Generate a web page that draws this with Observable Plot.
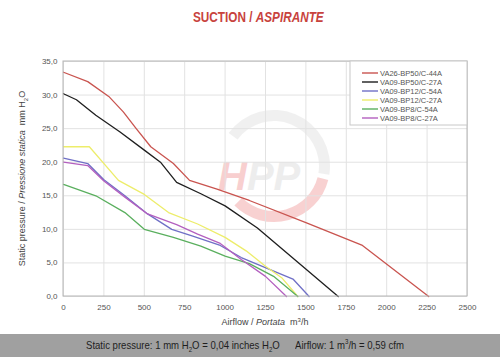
<!DOCTYPE html>
<html><head><meta charset="utf-8">
<script src="https://cdn.jsdelivr.net/npm/d3@7"></script>
<script src="https://cdn.jsdelivr.net/npm/@observablehq/plot@0.6"></script>
<style>
body{margin:0;background:#fff;}
#wrap{position:relative;width:500px;height:357px;overflow:hidden;font-family:"Liberation Sans",Arial,sans-serif;background:#fff;}
#title{position:absolute;top:9px;left:193px;white-space:nowrap;font-family:"Liberation Sans",Arial,sans-serif;font-weight:bold;font-size:14px;color:#c8433d;transform:scaleX(0.84);transform-origin:left top;}
#chart{position:absolute;top:40px;left:0;}
#foot{position:absolute;top:334px;left:0;width:500px;height:23px;background:#a0a0a0;color:#1e1e1e;font-family:"Liberation Sans",Arial,sans-serif;font-size:11px;line-height:23px;}
#foot span{position:absolute;top:0;white-space:nowrap;transform:scaleX(0.87);transform-origin:left center;}
sub,sup{font-size:7px;line-height:0;}
</style>
</head><body>
<div id="wrap">
  <div id="title">SUCTION / <i>ASPIRANTE</i></div>
  <div id="chart"></div>
  <div id="foot"><span style="left:86px">Static pressure: 1 mm H<sub>2</sub>O = 0,04 inches H<sub>2</sub>O</span><span style="left:295px">Airflow: 1 m<sup>3</sup>/h = 0,59 cfm</span></div>
</div>
<script>
const seriesNames = ["VA26-BP50/C-44A","VA09-BP50/C-27A","VA09-BP12/C-54A","VA09-BP12/C-27A","VA09-BP8/C-54A","VA09-BP8/C-27A"];
const seriesColors = ["#c9544f","#1e1e1e","#6f6fc6","#eded6a","#5aaf5e","#b35fbf"];

const flowVA26_BP50_44 = [0,150,280,370,450,540,680,780,950,1150,1500,1850,2260];
const presVA26_BP50_44 = [33.4,32.0,29.8,27.5,25.0,22.3,19.8,17.3,16.0,14.3,11.0,7.6,0];

const flowVA09_BP50_27 = [0,80,200,350,500,600,700,850,1000,1200,1700];
const presVA09_BP50_27 = [30.2,29.3,27.0,24.5,21.8,20.0,17.0,15.3,13.5,10.2,0];

const flowVA09_BP12_54 = [0,150,250,380,520,670,800,970,1100,1420,1520];
const presVA09_BP12_54 = [20.6,19.8,17.4,15.0,12.3,10.0,9.0,7.6,5.8,2.6,0];

const flowVA09_BP12_27 = [0,160,340,500,650,830,1000,1130,1250,1350,1450];
const presVA09_BP12_27 = [22.3,22.3,17.3,15.2,12.5,10.8,8.8,6.8,4.5,2.8,0];

const flowVA09_BP8_54 = [0,200,380,500,680,850,1000,1150,1300,1450];
const presVA09_BP8_54 = [16.7,15.0,12.5,10.0,8.8,7.5,6.0,4.9,3.0,0];

const flowVA09_BP8_27 = [0,150,250,380,520,700,830,970,1100,1250,1380];
const presVA09_BP8_27 = [20.0,19.5,17.2,14.8,12.3,10.7,9.3,7.9,5.5,3.0,0];

const xTicks = [0,250,500,750,1000,1250,1500,1750,2000,2250,2500];
const yTicks = [0,5,10,15,20,25,30,35];

const flows = [flowVA26_BP50_44,flowVA09_BP50_27,flowVA09_BP12_54,flowVA09_BP12_27,flowVA09_BP8_54,flowVA09_BP8_27];
const pres  = [presVA26_BP50_44,presVA09_BP50_27,presVA09_BP12_54,presVA09_BP12_27,presVA09_BP8_54,presVA09_BP8_27];
const data = [];
seriesNames.forEach((s,i)=>flows[i].forEach((f,j)=>data.push({series:s, flow:f, p:pres[i][j]})));

const W=500,H=294,mt=21,mb=38,ml=63,mr=33;
const plot = Plot.plot({
  width:W, height:H, marginTop:mt, marginBottom:mb, marginLeft:ml, marginRight:mr,
  style:{fontFamily:"Liberation Sans, Arial, sans-serif", fontSize:"8px", color:"#555", background:"transparent"},
  x:{domain:[0,2500], label:null},
  y:{domain:[0,35], label:null},
  color:{domain:seriesNames, range:seriesColors},
  marks:[
    Plot.gridX(xTicks,{stroke:"#e2e2e2", strokeOpacity:1}),
    Plot.gridY(yTicks,{stroke:"#e2e2e2", strokeOpacity:1}),
    Plot.axisX(xTicks,{tickSize:0, tickPadding:8, tickFormat:d=>String(d), fill:"#555"}),
    Plot.axisY(yTicks,{tickSize:0, tickPadding:6, tickFormat:d=>d.toFixed(1).replace(".",","), fill:"#555"}),
    Plot.line(data,{x:"flow", y:"p", z:"series", stroke:"series", strokeWidth:1.3})
  ]
});
document.getElementById("chart").appendChild(plot);

const svg = d3.select(plot);
const innerR = W-mr, innerB = H-mb;
// watermark
const wm = svg.insert("g", ":first-child").attr("opacity",0.5);
const cx=274, cy=126;
wm.append("path").attr("transform",`translate(${cx},${cy})`)
  .attr("d", d3.arc()({innerRadius:45,outerRadius:56,startAngle:-0.3*Math.PI,endAngle:0.55*Math.PI}))
  .attr("fill","#e3e3e3");
wm.append("path").attr("transform",`translate(${cx},${cy})`)
  .attr("d", d3.arc()({innerRadius:45,outerRadius:56,startAngle:0.58*Math.PI,endAngle:1.25*Math.PI}))
  .attr("fill","#f3a4a4");
const wt = wm.append("text").attr("x",218).attr("y",150).attr("text-anchor","start").attr("font-size",40).attr("font-weight","bold").attr("font-style","italic").attr("font-family","Liberation Sans, Arial, sans-serif");
wt.append("tspan").attr("fill","#f2a0a0").text("H");
wt.append("tspan").attr("fill","#dcdcdc").text("PP");
// frame
svg.append("rect").attr("x",ml).attr("y",mt).attr("width",innerR-ml).attr("height",innerB-mt).attr("fill","none").attr("stroke","#b5b5b5");
// legend box
const lg = svg.append("g").attr("text-anchor","start");
lg.append("rect").attr("x",350).attr("y",mt).attr("width",innerR-350).attr("height",64).attr("fill","#fff").attr("stroke","#c8c8c8");
seriesNames.forEach((s,i)=>{
  const yy = mt+12+i*9;
  lg.append("line").attr("x1",362).attr("x2",378).attr("y1",yy).attr("y2",yy).attr("stroke",seriesColors[i]).attr("stroke-width",1.4);
  lg.append("text").attr("x",380).attr("y",yy+2.7).attr("text-anchor","start").attr("font-size",7.5).attr("fill","#555").attr("font-family","Liberation Sans, Arial, sans-serif").text(s);
});
// axis titles
const xt = svg.append("text").attr("x",265).attr("y",H-9).attr("text-anchor","middle").attr("font-size",9).attr("fill","#444").attr("font-family","Liberation Sans, Arial, sans-serif");
xt.append("tspan").text("Airflow / ");
xt.append("tspan").attr("font-style","italic").text("Portata");
xt.append("tspan").text("  m");
xt.append("tspan").attr("font-size",6).attr("dy",-3).text("3");
xt.append("tspan").attr("dy",3).text("/h");
const yt = svg.append("text").attr("transform",`translate(25,${(mt+innerB)/2}) rotate(-90)`).attr("text-anchor","middle").attr("font-size",9).attr("fill","#444").attr("font-family","Liberation Sans, Arial, sans-serif");
yt.append("tspan").text("Static pressure / ");
yt.append("tspan").attr("font-style","italic").text("Pressione statica");
yt.append("tspan").text("  mm H");
yt.append("tspan").attr("font-size",6).attr("dy",3).text("2");
yt.append("tspan").attr("dy",-3).text("O");
</script>
</body></html>
